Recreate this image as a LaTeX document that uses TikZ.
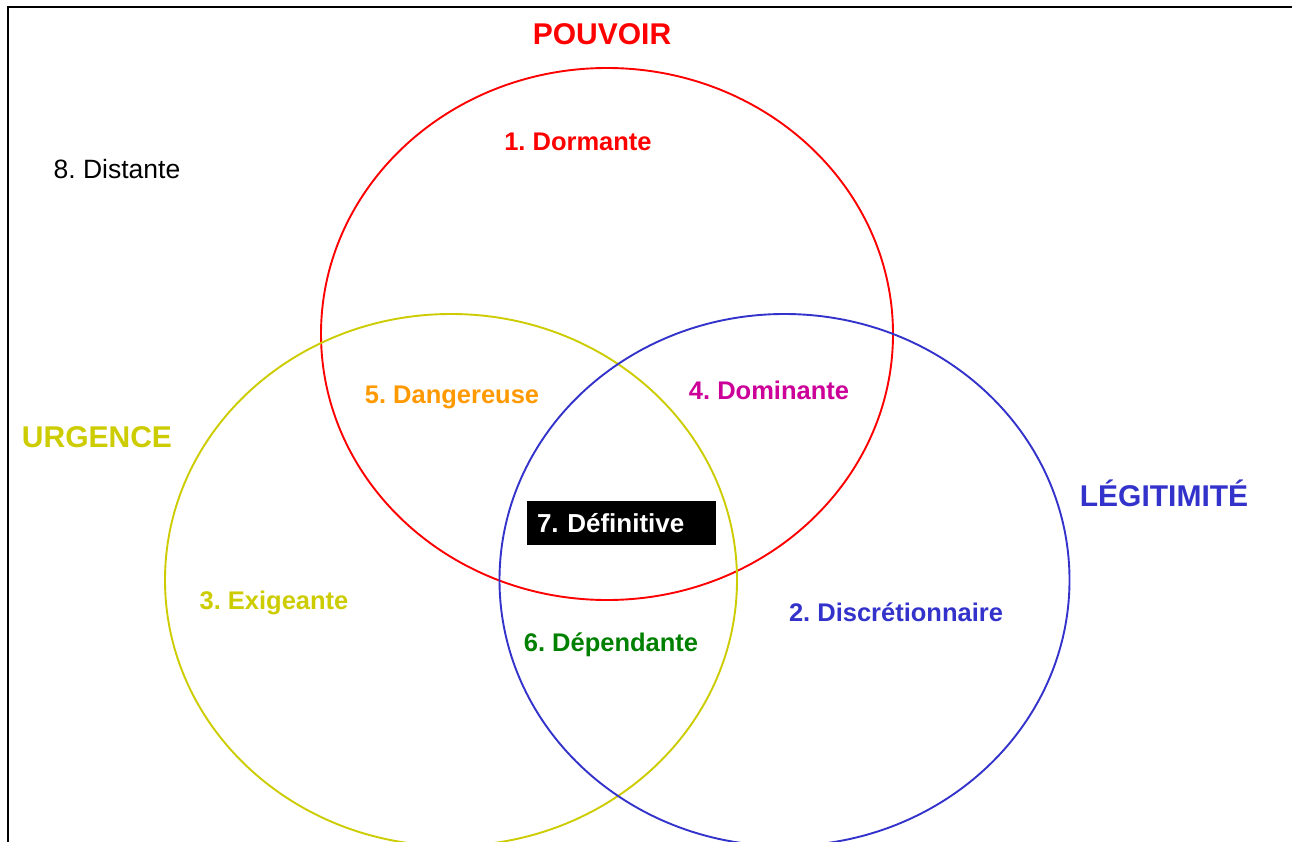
\documentclass[tikz,border=0pt]{standalone}
\usepackage{fontspec}
\setmainfont{Liberation Sans}
\frenchspacing
\definecolor{pred}{HTML}{FF0000}
\definecolor{uyel}{HTML}{CCCC00}
\definecolor{lblue}{HTML}{3333CC}
\definecolor{dorange}{HTML}{FF9900}
\definecolor{dmag}{HTML}{CC0099}
\definecolor{dgreen}{HTML}{008000}
\tikzset{
  title/.style={font=\fontsize{30}{32}\selectfont\bfseries, inner sep=0pt},
  lab/.style={font=\fontsize{25.5}{28}\selectfont\bfseries, inner sep=0pt},
  ring/.style={line width=1.9pt},
}
\begin{document}
\begin{tikzpicture}[x=1pt,y=-1pt]
\useasboundingbox (0,0) rectangle (1292,842);
\fill[white] (0,0) rectangle (1292,842);
\begin{scope}
\clip (0,0) rectangle (1292,842);
\draw[line width=2.2pt] (8,842) -- (8,7) -- (1292,7);
\draw[ring, pred] (607,334) ellipse [x radius=286, y radius=266];
\draw[ring, uyel] (451,580) ellipse [x radius=286, y radius=266];
\draw[ring, lblue] (784.5,580) ellipse [x radius=285, y radius=266];
\end{scope}
\node[title, pred] (pouvoir) at (602,34) {POUVOIR};
\node[title, uyel] (urgence) at (97,437) {URGENCE};
\node[title, lblue] (legit) at (1164,493) {LÉGITIMITÉ};
\node[font=\fontsize{26.5}{30}\selectfont, inner sep=0pt] (distante) at (117,169) {8. Distante};
\node[lab, pred] (dormante) at (578,142) {1. Dormante};
\node[lab, dorange] (dangereuse) at (452,397) {5. Dangereuse};
\node[lab, dmag] (dominante) at (769,390) {4. Dominante};
\node[fill=black, text=white, font=\fontsize{26}{28}\selectfont\bfseries, minimum width=189pt, minimum height=44pt, inner sep=0pt, text width=169pt, align=left] (definitive) at (621.5,523) {7. Définitive};
\node[lab, uyel] (exigeante) at (274,603) {3. Exigeante};
\node[lab, dgreen] (dependante) at (611,645) {6. Dépendante};
\node[lab, lblue] (discret) at (896,612) {2. Discrétionnaire};
\end{tikzpicture}
\end{document}
